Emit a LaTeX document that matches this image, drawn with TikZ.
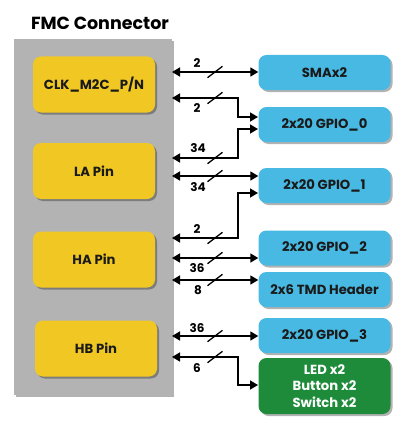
\documentclass[tikz,border=0pt]{standalone}
\usepackage{fontspec}
\setmainfont{Poppins}
\usetikzlibrary{arrows.meta,shadows}
\definecolor{ybox}{HTML}{F1C823}
\definecolor{bbox}{HTML}{48B9E2}
\definecolor{gbox}{HTML}{1E8B3B}
\definecolor{gpanel}{HTML}{B3B3B3}
\definecolor{txt}{HTML}{1A1A1A}
\tikzset{
  shd/.style={drop shadow={shadow xshift=2pt,shadow yshift=-2pt,fill=black,opacity=0.3}},
  pinbox/.style={shd,fill=ybox,rounded corners=8pt,minimum width=122pt,minimum height=56pt,inner sep=0pt,text=txt,font=\fontsize{13.2}{15}\selectfont\bfseries},
  devbox/.style={shd,fill=bbox,rounded corners=8pt,minimum width=132pt,minimum height=35pt,inner sep=0pt,text=txt,font=\fontsize{13.2}{15}\selectfont\bfseries},
  grnbox/.style={shd,fill=gbox,rounded corners=8pt,minimum width=132pt,minimum height=56pt,inner sep=0pt,text=white,align=center,font=\fontsize{13.2}{16.5}\selectfont\bfseries},
  dbl/.style={line width=1.5pt,{Triangle[length=8pt,width=9pt]}-{Triangle[length=8pt,width=9pt]}},
  slash/.style={line width=1.3pt},
  num/.style={inner sep=0pt,text=black,font=\fontsize{12}{13}\selectfont\bfseries},
}
\begin{document}
\begin{tikzpicture}[x=1pt,y=-1pt]
\useasboundingbox (0,0) rectangle (400,428);
% panel
\node[shd,fill=gpanel,minimum width=158pt,minimum height=356pt,inner sep=0pt] (panel) at (93,217) {};
\node[inner sep=0pt,font=\fontsize{17.5}{19}\selectfont\bfseries] (title) at (100,23) {FMC Connector};
% pins
\node[pinbox] (clk) at (94,84.5) {CLK\_M2C\_P/N};
\node[pinbox] (la) at (94,171) {LA Pin};
\node[pinbox] (ha) at (94,259.5) {HA Pin};
\node[pinbox] (hb) at (96,348.5) {HB Pin};
% devices
\node[devbox] (sma) at (324.5,72.5) {SMAx2};
\node[devbox] (g0) at (324.5,124.5) {2x20 GPIO\_0};
\node[devbox] (g1) at (324.5,185.5) {2x20 GPIO\_1};
\node[devbox] (g2) at (324.5,248) {2x20 GPIO\_2};
\node[devbox] (tmd) at (324.5,289.5) {2x6 TMD Header};
\node[devbox] (g3) at (324.5,335.5) {2x20 GPIO\_3};
\node[grnbox] (led) at (324.5,386) {LED x2\\Button x2\\Switch x2};
% connector end points
\coordinate (l1) at (172,72);
\coordinate (l2) at (172,98);   \coordinate (r2) at (258,117);
\coordinate (l3) at (172,158);  \coordinate (r3) at (258,129);
\coordinate (l4) at (172,176);
\coordinate (l5) at (172,238);  \coordinate (r5) at (258,193);
\coordinate (l6) at (172,258);
\coordinate (l7) at (172,280);
\coordinate (l8) at (172,336);
\coordinate (l9) at (172,357);  \coordinate (r9) at (258,385);
% connectors
\draw[dbl] (l1) -- (l1 -| sma.west);
\draw[dbl] (l2) -- ++(66,0) |- (r2);
\draw[dbl] (l3) -- ++(66,0) |- (r3);
\draw[dbl] (l4) -- (l4 -| g1.west);
\draw[dbl] (l5) -- ++(66,0) |- (r5);
\draw[dbl] (l6) -- (l6 -| g2.west);
\draw[dbl] (l7) -- (l7 -| tmd.west);
\draw[dbl] (l8) -- (l8 -| g3.west);
\draw[dbl] (l9) -- ++(66,0) |- (r9);
% bus slashes
\foreach \yy in {72,98,158,176,238,258,280,336,357}
  \draw[slash] (207.5,\yy+5.7) -- (222.5,\yy-5.7);
% bus widths
\node[num] (n1) at (197,63) {2};
\node[num] (n2) at (197,108) {2};
\node[num] (n3) at (198,148) {34};
\node[num] (n4) at (198,187) {34};
\node[num] (n5) at (197,229) {2};
\node[num] (n6) at (197,268) {36};
\node[num] (n7) at (198,290) {8};
\node[num] (n8) at (197,328) {36};
\node[num] (n9) at (197,368) {6};
\end{tikzpicture}
\end{document}
